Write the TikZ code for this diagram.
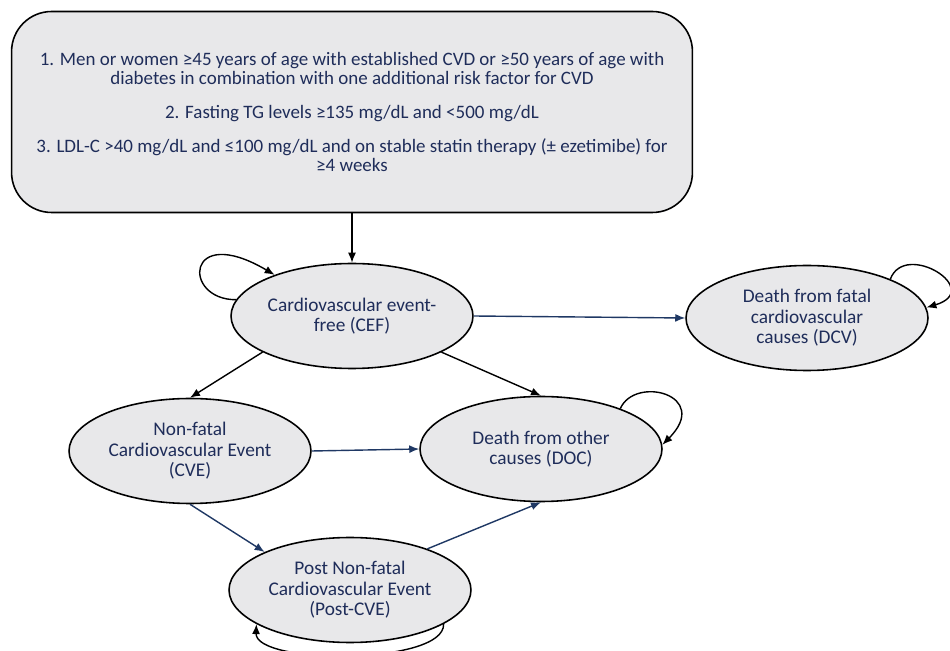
\documentclass[tikz,border=0pt]{standalone}
\usepackage{fontspec}
\setmainfont{Carlito}
\usepackage{xcolor}
\usetikzlibrary{arrows.meta,positioning,shapes.geometric}

\definecolor{statefill}{HTML}{E8E8EA}
\definecolor{navytext}{HTML}{1F2D5A}
\definecolor{navyline}{HTML}{1F3864}

\begin{document}
\begin{tikzpicture}[
  x=0.02cm, y=-0.02cm,
  crit/.style={draw,rounded corners=8mm,align=center,fill=statefill,
               minimum width=13.62cm,minimum height=4.02cm,line width=0.9pt,
               font=\fontsize{10.8}{10.8}\selectfont,text=navytext},
  hstate/.style={draw,ellipse,align=center,fill=statefill,inner sep=0pt,
                 minimum width=4.84cm,minimum height=2.1cm,line width=0.9pt,
                 font=\fontsize{11}{11.6}\selectfont,text=navytext},
  flow/.style={-{Latex[length=2mm,width=1.6mm]},line width=0.8pt},
  navyflow/.style={flow,navyline}
]
\useasboundingbox (0,0) rectangle (950,651);
% inclusion criteria
\node[crit] (criteria) at (352,112) {1. Men or women ≥45 years of age with established CVD or ≥50 years of age with\\
  diabetes in combination with one additional risk factor for CVD\\[8.5pt]
  2. Fasting TG levels ≥135 mg/dL and <500 mg/dL\\[8.5pt]
  3. LDL-C >40 mg/dL and ≤100 mg/dL and on stable statin therapy (± ezetimibe) for\\
  ≥4 weeks};
% health states
\node[hstate] (cef) at (352,316) {Cardiovascular event-\\free (CEF)};
\node[hstate] (dcv) at (807,318) {Death from fatal\\cardiovascular\\causes (DCV)};
\node[hstate] (cve) at (190,451) {Non-fatal\\Cardiovascular Event\\(CVE)};
\node[hstate] (doc) at (541,449) {Death from other\\causes (DOC)};
\node[hstate] (post) at (350,590) {Post Non-fatal\\Cardiovascular Event\\(Post-CVE)};
% transitions
\draw[flow] (criteria) -- (cef);
\draw[navyflow] (cef.east) -- (dcv.west);
\draw[flow] (cef.202) -- (cve.north);
\draw[flow] (cef.338) -- (doc.north);
\draw[navyflow] (cve.east) -- (doc.west);
\draw[navyflow] (cve.south) -- (post.156);
\draw[navyflow] (post.28) -- (doc.south);
% staying in the same state
\draw[flow] (cef.172) .. controls (182,300) and (185,222) .. (cef.152);
\draw[flow] (dcv.25) .. controls (905,240) and (985,290) .. (dcv.5);
\draw[flow] (doc.27) .. controls (635,375) and (712,395) .. (doc.2);
\draw[flow] (post.340) .. controls (445,665) and (255,665) .. (post.200);
\end{tikzpicture}
\end{document}
